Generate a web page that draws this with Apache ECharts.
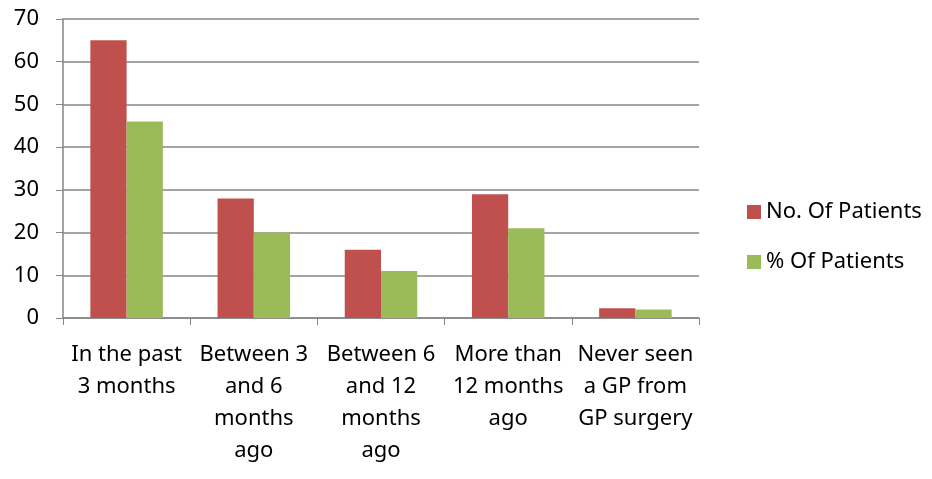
<!DOCTYPE html>
<html>
<head>
<meta charset="utf-8">
<script src="https://cdn.jsdelivr.net/npm/echarts@6/dist/echarts.min.js"></script>
<style>
  html, body { margin: 0; padding: 0; background: #fff; }
  #main { width: 932px; height: 479px; }
</style>
</head>
<body>
<div id="main"></div>
<script>
// 就诊时间分类
var categories = [
  'In the past\n3 months',
  'Between 3\nand 6\nmonths\nago',
  'Between 6\nand 12\nmonths\nago',
  'More than\n12 months\nago',
  'Never seen\na GP from\nGP surgery'
]
var patientCounts = [65, 28, 16, 29, 2.3]
var patientPercents = [46, 20, 11, 21, 2]
var yTicks = [0, 10, 20, 30, 40, 50, 60, 70]

var font = 'Noto Sans'
var gridColor = '#868686'

var chartObj = echarts.init(document.getElementById('main'))

var option = {
  color: ['#C0504D', '#9BBB59'],
  animation: false,
  legend: {
    data: ['No. Of Patients', '% Of Patients'],
    orient: 'vertical',
    left: 742,
    top: 196,
    itemWidth: 14,
    itemHeight: 14,
    itemGap: 28,
    icon: 'rect',
    textStyle: { fontFamily: font, fontSize: 22, color: '#000' }
  },
  grid: {
    top: 19,
    left: 63,
    right: 233,
    bottom: 161,
    containLabel: false
  },
  xAxis: [
    {
      type: 'category',
      data: categories,
      axisTick: {
        show: true,
        alignWithLabel: false,
        length: 7,
        lineStyle: { color: gridColor }
      },
      axisLabel: {
        color: '#000',
        fontFamily: font,
        fontSize: 22,
        lineHeight: 32,
        margin: 21,
        interval: 0
      },
      /** 坐标轴轴线相关设置 */
      axisLine: {
        lineStyle: { color: gridColor, width: 1.5 }
      }
    }
  ],
  yAxis: [
    {
      type: 'value',
      min: yTicks[0],
      max: yTicks[yTicks.length - 1],
      interval: 10,
      axisTick: {
        show: true,
        length: 7,
        lineStyle: { color: gridColor }
      },
      axisLabel: {
        color: '#000',
        fontFamily: font,
        fontSize: 22,
        margin: 24
      },
      axisLine: {
        show: true,
        lineStyle: { color: gridColor, width: 1.5 }
      },
      splitLine: {
        show: true,
        lineStyle: { color: gridColor, width: 1.5 }
      }
    }
  ],
  series: [
    {
      name: 'No. Of Patients',
      type: 'bar',
      barGap: '0%',
      barCategoryGap: '43%',
      data: patientCounts
    },
    {
      name: '% Of Patients',
      type: 'bar',
      data: patientPercents
    }
  ]
}

chartObj.setOption(option, true)
</script>
</body>
</html>
